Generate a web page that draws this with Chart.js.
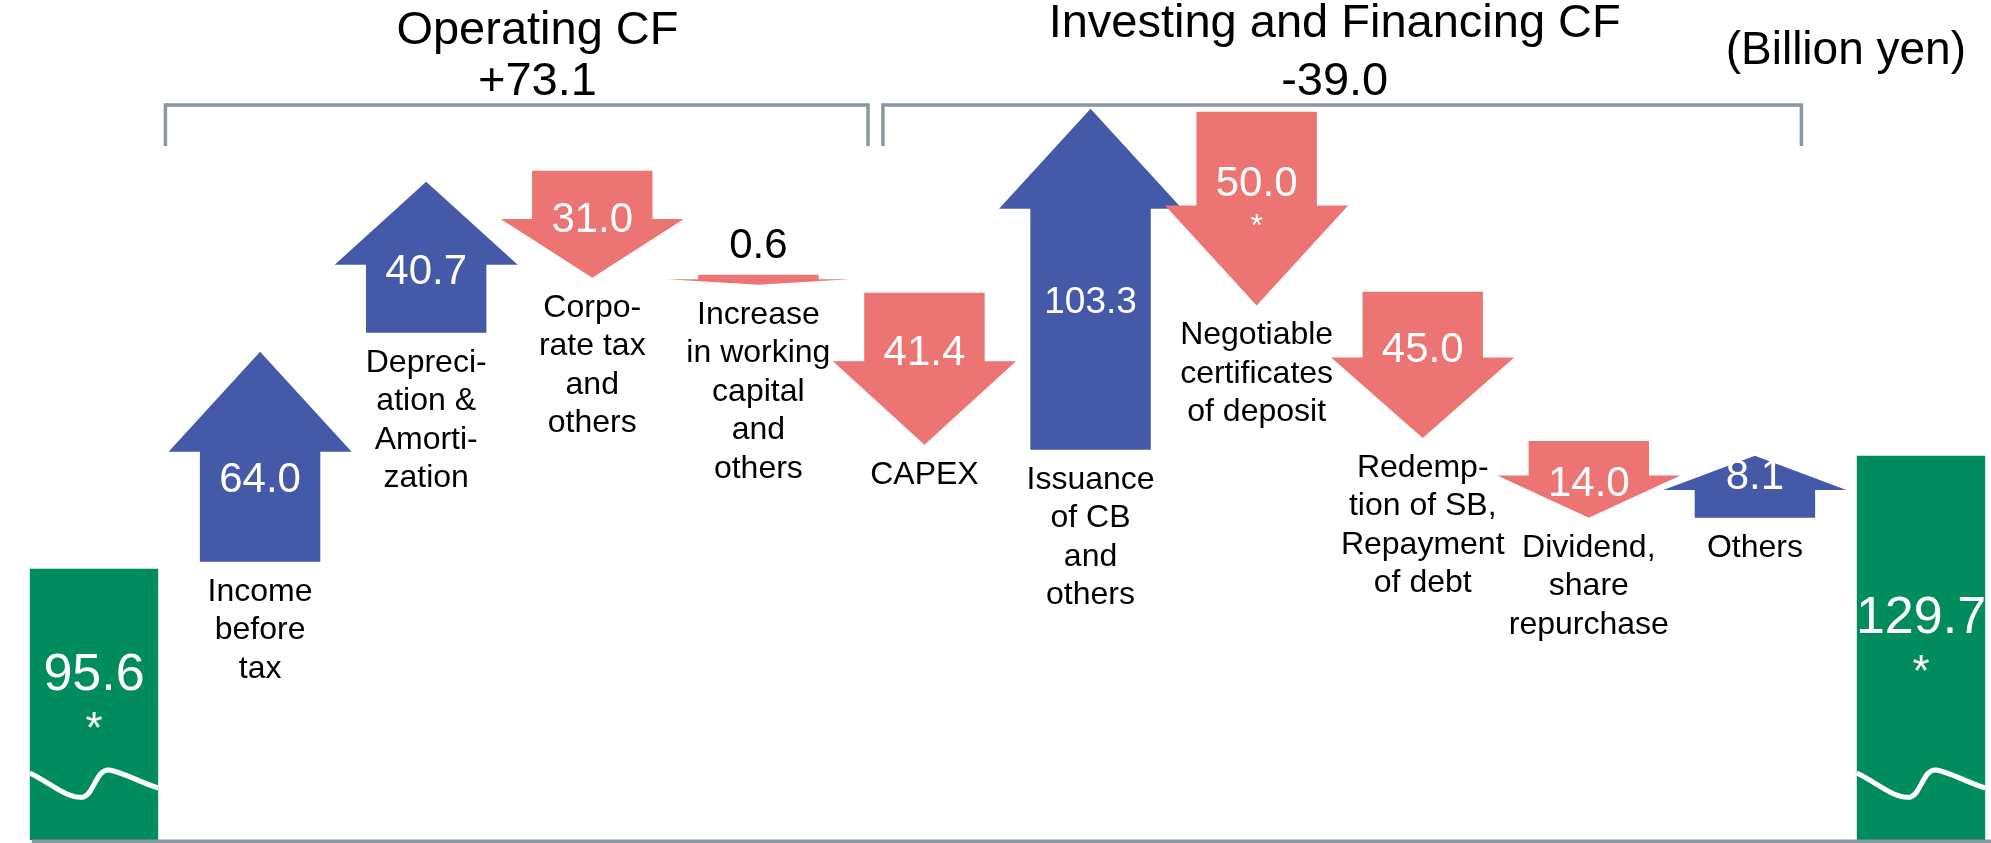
<!DOCTYPE html>
<html>
<head>
<meta charset="utf-8">
<title>Cash flow bridge</title>
<script src="https://cdn.jsdelivr.net/npm/chart.js@4.4.1/dist/chart.umd.min.js"></script>
<style>
  html, body { margin: 0; background: #fff; }
  canvas { display: block; }
</style>
</head>
<body>
<canvas id="cfChart" width="1991" height="843"></canvas>
<script>
// ---- data (billion yen) ----
const categoryLines = [
  [],
  ['Income', 'before', 'tax'],
  ['Depreci-', 'ation &', 'Amorti-', 'zation'],
  ['Corpo-', 'rate tax', 'and', 'others'],
  ['Increase', 'in working', 'capital', 'and', 'others'],
  ['CAPEX'],
  ['Issuance', 'of CB', 'and', 'others'],
  ['Negotiable', 'certificates', 'of deposit'],
  ['Redemp-', 'tion of SB,', 'Repayment', 'of debt'],
  ['Dividend,', 'share', 'repurchase'],
  ['Others'],
  []
];
const cashBalance = [95.6, null, null, null, null, null, null, null, null, null, null, 129.7];
const flowAmount  = [null, 64.0, 40.7, 31.0, 0.6, 41.4, 103.3, 50.0, 45.0, 14.0, 8.1, null];
// the original drawing is not to scale: these are the levels the arrows span in it
const flowFrom = [null,  97.7, 166.8, 215.7, 184.3, 178.9, 131.5, 233.5, 179.2, 134.2, 111.0, null];
const flowTo   = [null, 161.1, 212.4, 183.4, 181.3, 133.0, 234.4, 175.0, 135.1, 111.0, 129.7, null];
const footnote = ['*', '', '', '', '', '', '', '*', '', '', '', '*'];
const groupTitles = ['Operating CF', 'Investing and Financing CF'];
const groupTotals = ['+73.1', '-39.0'];
const unitLabel = '(Billion yen)';

// ---- styling ----
const Y_MIN = 13.8;   // axis is broken, bars start here
const Y_MAX = 250;
const GREEN = '#008c5e';
const BLUE = '#4459a7';
const RED = '#ec7472';
const GREY = '#8a96a2';
const FONT = '"Liberation Sans", Arial, sans-serif';
// bracket spans / title centres, in category-index units
const BRACKETS = [
  { from: 0.43, to: 4.66, text: 2.67, titleY: 31 },
  { from: 4.75, to: 10.28, text: 7.47, titleY: 24 }
];

function fitFont(ctx, text, size, maxW) {
  ctx.font = `${size}px ${FONT}`;
  const w = ctx.measureText(text).width;
  if (w > maxW) size = Math.floor(size * maxW / w);
  ctx.font = `${size}px ${FONT}`;
}

const bridgePlugin = {
  id: 'bridge',
  afterDatasetsDraw(chart) {
    const { ctx, chartArea, scales: { x, y } } = chart;
    const cashMeta = chart.getDatasetMeta(0);
    const flowMeta = chart.getDatasetMeta(1);
    ctx.save();
    ctx.textAlign = 'center';
    ctx.textBaseline = 'middle';

    // cash balances: value, footnote mark and the axis-break wave
    cashBalance.forEach((v, i) => {
      if (v == null) return;
      const bar = cashMeta.data[i];
      const L = bar.x - bar.width / 2, w = bar.width, B = bar.base;
      const ly = (bar.y + bar.base) / 2 - 29;
      ctx.fillStyle = '#fff';
      ctx.font = `52px ${FONT}`;
      ctx.fillText(v.toFixed(1), bar.x, ly);
      if (footnote[i]) { ctx.font = `44px ${FONT}`; ctx.fillText(footnote[i], bar.x, ly + 55); }
      ctx.strokeStyle = '#fff';
      ctx.lineWidth = 5;
      ctx.beginPath();
      ctx.moveTo(L, B - 67);
      ctx.bezierCurveTo(L + 0.15 * w, B - 58, L + 0.3 * w, B - 40, L + 0.42 * w, B - 43);
      ctx.bezierCurveTo(L + 0.5 * w, B - 46, L + 0.52 * w, B - 72, L + 0.62 * w, B - 70);
      ctx.bezierCurveTo(L + 0.72 * w, B - 68, L + 0.85 * w, B - 58, L + w, B - 52);
      ctx.stroke();
    });

    // flows as block arrows
    flowFrom.forEach((from, i) => {
      if (from == null) return;
      const bar = flowMeta.data[i];
      const cx = bar.x, half = bar.width / 2, wing = half * 1.52;
      const y0 = y.getPixelForValue(from), y1 = y.getPixelForValue(flowTo[i]);
      const dir = Math.sign(y1 - y0);           // +1 = pointing down
      const len = Math.abs(y1 - y0);
      const yh = y1 - dir * Math.min(100, len * 0.55);
      ctx.fillStyle = flowTo[i] > from ? BLUE : RED;
      ctx.beginPath();
      ctx.moveTo(cx - half, y0);
      ctx.lineTo(cx - half, yh);
      ctx.lineTo(cx - wing, yh);
      ctx.lineTo(cx, y1);
      ctx.lineTo(cx + wing, yh);
      ctx.lineTo(cx + half, yh);
      ctx.lineTo(cx + half, y0);
      ctx.closePath();
      ctx.fill();

      const txt = flowAmount[i].toFixed(1);
      if (len < 30) {
        ctx.fillStyle = '#000';
        ctx.font = `42px ${FONT}`;
        ctx.fillText(txt, cx, Math.min(y0, y1) - 28);
      } else {
        const ly = (y0 + yh) / 2 + dir * 26;
        ctx.fillStyle = '#fff';
        fitFont(ctx, txt, 42, bar.width * 0.78);
        ctx.fillText(txt, cx, ly);
        if (footnote[i]) { ctx.font = `32px ${FONT}`; ctx.fillText(footnote[i], cx, ly + 43); }
      }

      ctx.fillStyle = '#000';
      ctx.font = `32px ${FONT}`;
      const top = Math.max(y0, y1) + 30;
      categoryLines[i].forEach((line, k) => ctx.fillText(line, cx, top + k * 38.5));
    });

    // baseline
    const first = cashMeta.data[0];
    ctx.strokeStyle = GREY;
    ctx.lineWidth = 4;
    ctx.beginPath();
    ctx.moveTo(first.x - first.width / 2 + 2, chartArea.bottom + 1.5);
    ctx.lineTo(chart.width, chartArea.bottom + 1.5);
    ctx.stroke();

    // group brackets and titles
    ctx.lineWidth = 3.5;
    BRACKETS.forEach((b, g) => {
      const xa = x.getPixelForValue(b.from), xb = x.getPixelForValue(b.to);
      ctx.strokeStyle = GREY;
      ctx.beginPath();
      ctx.moveTo(xa, 146); ctx.lineTo(xa, 105); ctx.lineTo(xb, 105); ctx.lineTo(xb, 146);
      ctx.stroke();
      const tx = x.getPixelForValue(b.text);
      ctx.fillStyle = '#000';
      ctx.font = `47px ${FONT}`;
      ctx.fillText(groupTitles[g], tx, b.titleY);
      ctx.fillText(groupTotals[g], tx, 82);
    });
    ctx.textAlign = 'right';
    ctx.font = `46px ${FONT}`;
    ctx.fillText(unitLabel, 1966, 51);
    ctx.restore();
  }
};

new Chart(document.getElementById('cfChart'), {
  type: 'bar',
  data: {
    labels: categoryLines.map((l, i) => l.join(' ') || (i === 0 ? 'Opening balance' : 'Closing balance')),
    datasets: [
      {
        label: 'Cash balance',
        data: cashBalance,
        base: Y_MIN,
        backgroundColor: GREEN,
        categoryPercentage: 1, barPercentage: 0.773,
        grouped: false, clip: false,
      },
      {
        label: 'Cash flow',
        data: flowFrom.map((f, i) => f == null ? null : [f, flowTo[i]]),
        backgroundColor: 'rgba(0,0,0,0)',
        categoryPercentage: 1, barPercentage: 0.725,
        grouped: false, clip: false,
      },
    ]
  },
  options: {
    responsive: false,
    animation: false,
    events: [],
    layout: { padding: { left: 94, right: 70, top: 57, bottom: 3 } },
    plugins: { legend: { display: false }, tooltip: { enabled: false } },
    scales: {
      x: { display: false, offset: false },
      y: { display: false, min: Y_MIN, max: Y_MAX }
    }
  },
  plugins: [bridgePlugin]
});
</script>
</body>
</html>
